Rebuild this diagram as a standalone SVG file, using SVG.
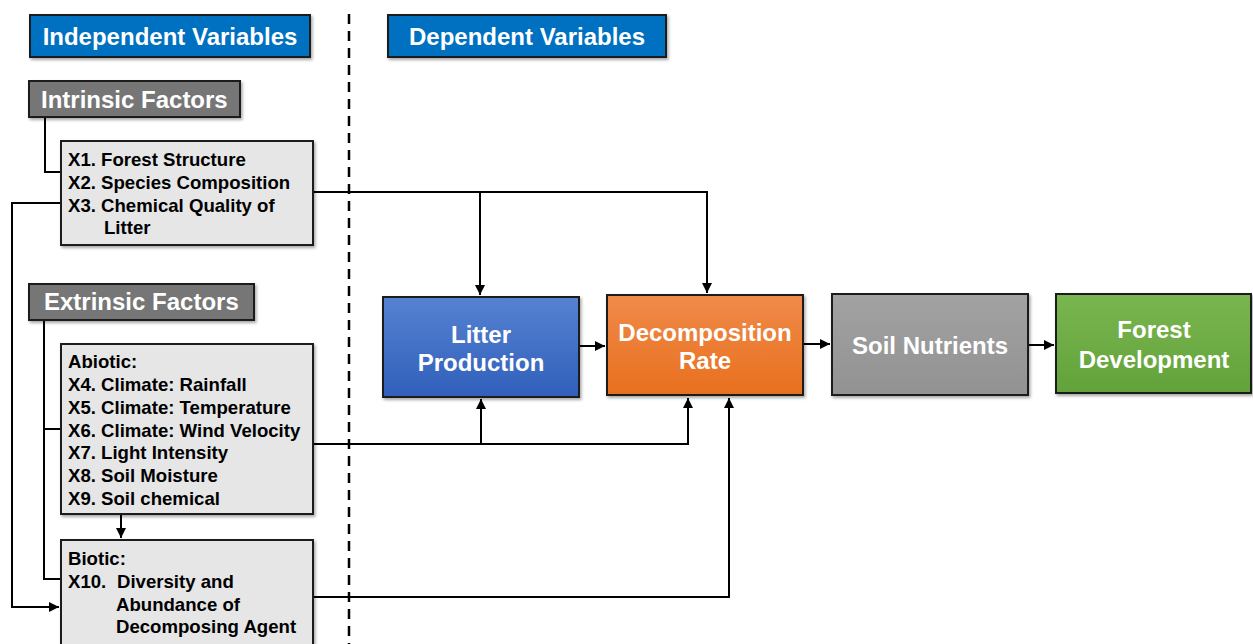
<svg xmlns="http://www.w3.org/2000/svg" width="1253" height="644" viewBox="0 0 1253 644">
<style>
text{font-family:"Liberation Sans",Arial,sans-serif;font-weight:bold}
.hdr{fill:#0070C0;stroke:#1a1a1a;stroke-width:2}
.cat{fill:#767676;stroke:#1a1a1a;stroke-width:2}
.lst{fill:#E6E6E6;stroke:#1a1a1a;stroke-width:2}
.big{stroke:#1a1a1a;stroke-width:2}
.wt{fill:#fff;font-size:24px}
.bt{fill:#000;font-size:18.6px}
.bw{fill:#fff;font-size:24px;text-anchor:middle}
.ln{fill:none;stroke:#000;stroke-width:2}
</style>
<defs>
<marker id="ah" viewBox="0 0 10 10" refX="10" refY="5" markerWidth="5" markerHeight="5" orient="auto" markerUnits="strokeWidth"><path d="M0,0 L10,5 L0,10 z" fill="#000"/></marker>
<linearGradient id="gB" x1="0" y1="0" x2="0" y2="1"><stop offset="0" stop-color="#5782D2"/><stop offset="1" stop-color="#2F5FBA"/></linearGradient>
<linearGradient id="gO" x1="0" y1="0" x2="0" y2="1"><stop offset="0" stop-color="#F08A4A"/><stop offset="1" stop-color="#E8701E"/></linearGradient>
<linearGradient id="gG" x1="0" y1="0" x2="0" y2="1"><stop offset="0" stop-color="#A2A2A2"/><stop offset="1" stop-color="#929292"/></linearGradient>
<linearGradient id="gV" x1="0" y1="0" x2="0" y2="1"><stop offset="0" stop-color="#7AB650"/><stop offset="1" stop-color="#62A23A"/></linearGradient>
<filter id="sh" x="-5%" y="-5%" width="115%" height="120%"><feDropShadow dx="1.5" dy="2" stdDeviation="1.5" flood-color="#000" flood-opacity="0.35"/></filter>
</defs>
<rect width="1253" height="644" fill="#fff"/>
<line x1="349" y1="14" x2="349" y2="644" stroke="#000" stroke-width="2.5" stroke-dasharray="10,7"/>
<g id="connectors">
<polyline class="ln" points="45,117 45,172 61,172"/>
<polyline class="ln" points="61,203 12,203 12,607 59,607" marker-end="url(#ah)"/>
<polyline class="ln" points="44,320 44,579 61,579"/>
<line class="ln" x1="44" y1="429" x2="61" y2="429"/>
<line class="ln" x1="121" y1="514" x2="121" y2="538" marker-end="url(#ah)"/>
<polyline class="ln" points="313,192 707,192 707,293" marker-end="url(#ah)"/>
<line class="ln" x1="480" y1="192" x2="480" y2="295" marker-end="url(#ah)"/>
<polyline class="ln" points="313,444 688,444 688,398" marker-end="url(#ah)"/>
<line class="ln" x1="481" y1="444" x2="481" y2="399" marker-end="url(#ah)"/>
<polyline class="ln" points="313,597 729,597 729,398" marker-end="url(#ah)"/>
<line class="ln" x1="579" y1="346" x2="605" y2="346" marker-end="url(#ah)"/>
<line class="ln" x1="803" y1="344" x2="830" y2="344" marker-end="url(#ah)"/>
<line class="ln" x1="1028" y1="345" x2="1054" y2="345" marker-end="url(#ah)"/>
</g>
<g id="independent-variables"><rect class="hdr" x="30" y="15" width="280" height="42" filter="url(#sh)"/><text class="wt" x="170" y="45" text-anchor="middle">Independent Variables</text></g>
<g id="dependent-variables"><rect class="hdr" x="388" y="15" width="278" height="42" filter="url(#sh)"/><text class="wt" x="527" y="45" text-anchor="middle">Dependent Variables</text></g>
<g id="intrinsic-factors"><rect class="cat" x="29" y="81" width="211" height="36" filter="url(#sh)"/><text class="wt" x="41" y="108">Intrinsic Factors</text></g>
<g id="intrinsic-list"><rect class="lst" x="61" y="141" width="252" height="104" filter="url(#sh)"/>
<text class="bt" x="68" y="166">X1. Forest Structure</text>
<text class="bt" x="68" y="189">X2. Species Composition</text>
<text class="bt" x="68" y="212">X3. Chemical Quality of</text>
<text class="bt" x="104" y="234">Litter</text></g>
<g id="extrinsic-factors"><rect class="cat" x="29" y="284" width="225" height="36" filter="url(#sh)"/><text class="wt" x="44" y="310">Extrinsic Factors</text></g>
<g id="abiotic"><rect class="lst" x="61" y="344" width="252" height="170" filter="url(#sh)"/>
<text class="bt" x="68" y="368">Abiotic:</text>
<text class="bt" x="68" y="391">X4. Climate: Rainfall</text>
<text class="bt" x="68" y="414">X5. Climate: Temperature</text>
<text class="bt" x="68" y="437">X6. Climate: Wind Velocity</text>
<text class="bt" x="68" y="459">X7. Light Intensity</text>
<text class="bt" x="68" y="482">X8. Soil Moisture</text>
<text class="bt" x="68" y="505">X9. Soil chemical</text></g>
<g id="biotic"><rect class="lst" x="61" y="540" width="252" height="110" filter="url(#sh)"/>
<text class="bt" x="68" y="565">Biotic:</text>
<text class="bt" x="68" y="588">X10.</text>
<text class="bt" x="117" y="588">Diversity and</text>
<text class="bt" x="116" y="611">Abundance of</text>
<text class="bt" x="116" y="633">Decomposing Agent</text></g>
<g id="litter-production"><rect class="big" x="383" y="297" width="196" height="100" fill="url(#gB)" filter="url(#sh)"/><text class="bw" x="481" y="343">Litter</text><text class="bw" x="481" y="371">Production</text></g>
<g id="decomposition-rate"><rect class="big" x="607" y="295" width="196" height="100" fill="url(#gO)" filter="url(#sh)"/><text class="bw" x="705" y="341">Decomposition</text><text class="bw" x="705" y="369">Rate</text></g>
<g id="soil-nutrients"><rect class="big" x="832" y="294" width="196" height="101" fill="url(#gG)" filter="url(#sh)"/><text class="bw" x="930" y="354">Soil Nutrients</text></g>
<g id="forest-development"><rect class="big" x="1056" y="294" width="195" height="99" fill="url(#gV)" filter="url(#sh)"/><text class="bw" x="1154" y="338">Forest</text><text class="bw" x="1154" y="368">Development</text></g>
</svg>
